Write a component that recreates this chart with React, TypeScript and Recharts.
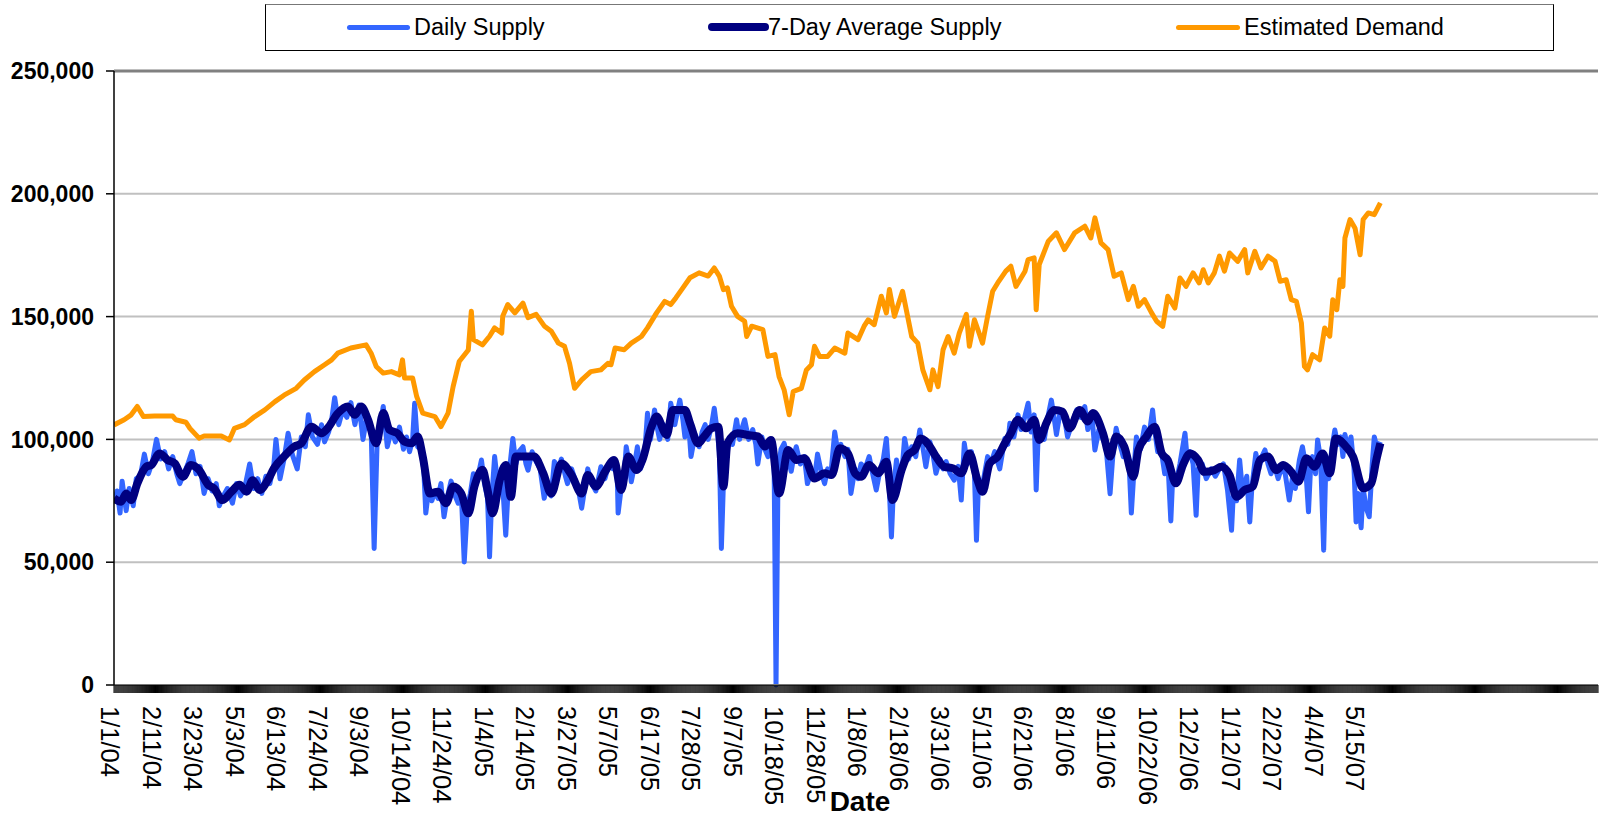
import React from "react";
import { CartesianGrid, Line, LineChart, ReferenceLine, XAxis, YAxis } from "recharts";

// x = days since 1/1/04, y = supply / demand
const dailySupply: [number, number][] = [
  [0, 74000], [3, 79000], [6, 70000], [8, 83000], [12, 71000], [15, 80000], [19, 73000], [22, 84000], [26, 85000], [30, 94000],
  [34, 86000], [38, 91000], [42, 100000], [46, 92000], [50, 95000], [54, 88000], [58, 93000], [62, 86000], [65, 82000], [69, 86000],
  [73, 90000], [77, 95000], [81, 86000], [85, 89000], [89, 78000], [93, 84000], [97, 79000], [101, 82000], [104, 73000], [108, 77000],
  [112, 80000], [117, 74000], [121, 82000], [125, 77000], [129, 80000], [134, 90000], [138, 80000], [142, 84000], [146, 78000], [150, 85000],
  [154, 82000], [158, 90000], [160, 100000], [164, 84000], [168, 92000], [172, 102500], [176, 94000], [181, 88000], [185, 101000], [189, 97000],
  [192, 110000], [196, 101000], [201, 98000], [205, 106000], [208, 99000], [212, 103000], [215, 108000], [218, 117000], [222, 106000], [226, 112000],
  [230, 109000], [234, 115000], [238, 106000], [242, 114000], [246, 100000], [250, 110000], [254, 104000], [257, 55600], [260, 100000], [263, 106000],
  [266, 113400], [270, 97000], [274, 104000], [278, 99000], [282, 105000], [286, 96000], [289, 101000], [292, 95000], [295, 100000], [297, 114700],
  [300, 97000], [303, 96000], [306, 88000], [308, 70000], [311, 80000], [314, 75000], [317, 79000], [320, 76000], [323, 82000], [326, 68500],
  [329, 76000], [333, 83000], [336, 78000], [340, 74000], [343, 79000], [346, 50100], [349, 72000], [352, 78000], [355, 86000], [359, 84000],
  [363, 91600], [366, 82000], [369, 76000], [371, 52200], [373, 75000], [376, 93000], [379, 82000], [383, 88000], [387, 61000], [390, 85000],
  [394, 100400], [397, 90000], [400, 95000], [404, 97000], [407, 90000], [409, 87500], [413, 95000], [417, 91000], [421, 88000], [425, 76000],
  [428, 82000], [432, 77000], [435, 91000], [439, 88000], [442, 92000], [446, 85000], [448, 82000], [452, 88000], [456, 83000], [459, 79000],
  [462, 72000], [465, 80000], [468, 88000], [472, 82000], [476, 79000], [481, 88900], [485, 84000], [489, 90000], [493, 88000], [497, 88000],
  [498, 70000], [501, 80000], [504, 86000], [506, 97000], [509, 90000], [511, 82800], [514, 89000], [517, 97000], [520, 88000], [524, 93000],
  [527, 110600], [530, 100000], [534, 112000], [537, 104000], [539, 100000], [543, 106000], [547, 100000], [550, 114700], [554, 106000], [556, 110000],
  [559, 116000], [562, 108000], [564, 101000], [567, 110000], [570, 93000], [574, 102000], [578, 97000], [581, 103000], [584, 106000], [587, 100000],
  [590, 105000], [593, 112700], [596, 103000], [598, 95000], [600, 55600], [602, 82000], [605, 93000], [608, 100000], [611, 98000], [615, 108000],
  [618, 100000], [620, 104000], [623, 108000], [627, 100000], [631, 104000], [634, 98000], [636, 90000], [640, 101000], [643, 96000], [646, 93000],
  [649, 100000], [652, 95000], [654, 0], [656, 88000], [659, 96000], [662, 98400], [666, 92000], [669, 87000], [672, 94000], [674, 97000],
  [678, 90000], [682, 93000], [685, 82000], [689, 87000], [692, 84000], [695, 94000], [699, 86000], [702, 82000], [705, 88000], [708, 85000],
  [712, 103000], [715, 95000], [718, 98000], [722, 93000], [725, 96000], [728, 78000], [732, 88000], [735, 84000], [738, 90000], [742, 88000],
  [746, 93000], [750, 85000], [753, 79400], [757, 88000], [760, 92000], [763, 100400], [765, 88000], [768, 60300], [770, 80000], [773, 91600],
  [776, 84000], [779, 90000], [781, 100400], [785, 92000], [788, 97000], [792, 93000], [796, 103800], [799, 97000], [802, 88900], [806, 99000],
  [809, 94000], [812, 86200], [816, 92000], [819, 88000], [822, 91000], [826, 86000], [830, 83400], [834, 89000], [837, 75300], [840, 98400],
  [843, 90000], [847, 95000], [850, 86000], [852, 58900], [854, 82000], [857, 79000], [860, 86000], [863, 93000], [866, 90000], [870, 95000],
  [875, 88000], [880, 100400], [883, 98000], [885, 106600], [889, 101000], [893, 110000], [896, 104000], [899, 108000], [903, 114700], [906, 103000],
  [909, 110000], [911, 79400], [913, 102000], [916, 104000], [919, 100000], [922, 108000], [926, 116000], [929, 108000], [931, 102000], [935, 112000],
  [937, 110700], [940, 106000], [942, 101000], [946, 106000], [951, 112000], [955, 109000], [959, 113400], [962, 104000], [966, 110000], [969, 95700],
  [973, 104000], [977, 100000], [980, 97000], [984, 77900], [987, 95000], [990, 104500], [993, 99000], [997, 93000], [1000, 94300], [1003, 88000],
  [1005, 70000], [1008, 90000], [1010, 101000], [1014, 96000], [1018, 105000], [1022, 100000], [1026, 112000], [1028, 104000], [1031, 95000], [1034, 97000],
  [1038, 86000], [1041, 92000], [1044, 66800], [1046, 86000], [1049, 82000], [1053, 90000], [1058, 102500], [1060, 93000], [1063, 95000], [1066, 90000],
  [1069, 69100], [1071, 88000], [1075, 90000], [1079, 84000], [1084, 88000], [1088, 85000], [1092, 88000], [1096, 90000], [1100, 79400], [1104, 63000],
  [1106, 80000], [1109, 75000], [1112, 91600], [1115, 78000], [1119, 85000], [1122, 66400], [1124, 80000], [1128, 94300], [1131, 88000], [1134, 93000],
  [1137, 95700], [1140, 90000], [1143, 86000], [1146, 90000], [1150, 84000], [1153, 88000], [1157, 86000], [1161, 75300], [1164, 84000], [1167, 80000],
  [1171, 91600], [1174, 97000], [1177, 90000], [1180, 70500], [1182, 88000], [1184, 93000], [1187, 86000], [1189, 99800], [1192, 92000], [1195, 54900],
  [1197, 88000], [1200, 84000], [1203, 96000], [1206, 103800], [1209, 98000], [1212, 101000], [1214, 93000], [1216, 102000], [1219, 96000], [1222, 101000],
  [1225, 88000], [1227, 66400], [1229, 78000], [1232, 64000], [1234, 80000], [1237, 72000], [1240, 68500], [1243, 90000], [1245, 101000], [1248, 96000],
  [1251, 99000],
];

const weeklyAverage: [number, number][] = [
  [0, 76000], [7, 74600], [12, 78000], [17, 75300], [23, 82000], [32, 88900], [37, 89600], [45, 94300], [53, 91600], [60, 90200],
  [68, 84800], [76, 89600], [84, 87600], [93, 81500], [99, 80000], [107, 75300], [116, 78700], [124, 81500], [131, 78700], [137, 83400],
  [144, 79400], [152, 83400], [158, 88200], [168, 93000], [178, 97000], [185, 98400], [195, 105200], [205, 102500], [211, 104500], [221, 110600],
  [231, 113400], [238, 110000], [244, 113400], [251, 108000], [259, 98400], [266, 110700], [272, 103900], [280, 102500], [287, 99100], [294, 98400],
  [300, 101200], [305, 93000], [312, 78000], [320, 78700], [328, 74000], [335, 80800], [343, 78000], [350, 69900], [356, 80800], [364, 87600],
  [369, 79400], [374, 69900], [381, 83400], [387, 89600], [392, 76600], [397, 93000], [405, 93000], [415, 93000], [424, 86200], [432, 78000],
  [442, 90200], [452, 85500], [462, 78000], [468, 85500], [476, 80800], [485, 86800], [494, 91600], [501, 79400], [508, 93000], [516, 87500],
  [522, 91600], [531, 105200], [536, 109300], [546, 101800], [552, 112000], [564, 112000], [569, 106600], [577, 98400], [583, 101200], [590, 104500],
  [597, 105200], [602, 80800], [606, 98400], [616, 102500], [626, 101800], [636, 101200], [643, 97100], [649, 99800], [657, 78000], [666, 95700],
  [674, 91600], [682, 92300], [692, 84100], [702, 86200], [709, 85500], [717, 96400], [725, 94300], [732, 86200], [738, 84800], [746, 89600],
  [755, 86200], [763, 90900], [769, 75300], [778, 87500], [784, 93600], [791, 95700], [797, 100400], [806, 97100], [812, 93000], [820, 88900],
  [829, 88200], [837, 86200], [845, 94300], [853, 83400], [858, 78700], [865, 90200], [873, 93000], [880, 98400], [886, 102500], [893, 108000],
  [901, 104500], [909, 108000], [914, 99800], [921, 106600], [929, 112000], [937, 111300], [944, 104500], [954, 112000], [962, 107300], [967, 110700],
  [977, 102500], [984, 93000], [990, 101200], [998, 97100], [1007, 84800], [1012, 95700], [1020, 101200], [1028, 105200], [1035, 94300], [1041, 91600],
  [1049, 82100], [1056, 89600], [1063, 94300], [1071, 91600], [1077, 86800], [1087, 87500], [1094, 88900], [1102, 85500], [1109, 76600], [1117, 79400],
  [1125, 80800], [1132, 91600], [1140, 93000], [1148, 87500], [1155, 89600], [1163, 86800], [1170, 82800], [1178, 92300], [1186, 88900], [1194, 94300],
  [1201, 86200], [1207, 100400], [1217, 97100], [1224, 93000], [1234, 80100], [1242, 82100], [1247, 91600], [1251, 98400],
];

const estimatedDemand: [number, number][] = [
  [0, 105900], [10, 108000], [17, 110000], [23, 113400], [29, 109300], [40, 109500], [58, 109500], [61, 108000], [71, 107000], [75, 104500],
  [84, 100500], [89, 101400], [106, 101400], [114, 99800], [119, 104500], [129, 106000], [139, 109300], [149, 112000], [159, 115400], [168, 118000],
  [180, 120800], [188, 124200], [198, 127600], [208, 130400], [215, 132400], [221, 135100], [234, 137200], [249, 138500], [254, 135100], [259, 129700],
  [266, 127000], [274, 127600], [282, 126300], [285, 132400], [287, 125000], [295, 125000], [299, 117500], [305, 110700], [317, 109300], [323, 105200],
  [330, 110700], [335, 121500], [341, 131700], [350, 136400], [353, 152200], [355, 140600], [364, 138500], [371, 142000], [376, 145400], [383, 143300],
  [384, 150100], [389, 154900], [396, 151500], [404, 155500], [409, 149600], [417, 150900], [425, 146200], [432, 144000], [439, 139200], [445, 137900],
  [450, 131000], [455, 120800], [462, 124200], [471, 127600], [481, 128300], [488, 131000], [491, 130400], [495, 137200], [504, 136500], [511, 139200],
  [521, 141900], [527, 145400], [536, 151500], [544, 156200], [550, 154900], [555, 157600], [562, 161700], [569, 165800], [578, 167800], [587, 166500],
  [593, 169800], [598, 166500], [602, 161000], [606, 161700], [610, 154200], [616, 150100], [623, 148100], [625, 141900], [630, 146100], [641, 144700],
  [646, 133800], [653, 134500], [657, 125600], [662, 120200], [667, 110000], [671, 119500], [679, 120800], [684, 128300], [689, 130400], [692, 137900],
  [697, 133800], [705, 133800], [712, 137200], [722, 135100], [725, 143300], [735, 140600], [741, 146100], [745, 148700], [751, 146700], [758, 158300],
  [763, 151500], [766, 161000], [771, 150100], [779, 160300], [788, 141900], [794, 139200], [799, 128300], [806, 120200], [809, 128300], [814, 121500],
  [819, 136500], [824, 141900], [830, 135100], [835, 143300], [842, 150900], [845, 137900], [850, 148700], [858, 139200], [863, 150100], [868, 160300],
  [873, 163700], [881, 168500], [886, 170500], [891, 162300], [900, 168500], [903, 173200], [909, 173900], [911, 152800], [914, 171200], [923, 180700],
  [931, 184100], [939, 177300], [949, 184100], [959, 186800], [965, 182000], [969, 190200], [975, 180000], [982, 177300], [988, 166400], [995, 167800],
  [1002, 156900], [1007, 162300], [1012, 154200], [1018, 156900], [1025, 151500], [1030, 148100], [1036, 146000], [1041, 158300], [1048, 153500], [1053, 165700],
  [1059, 162300], [1066, 167800], [1072, 163700], [1076, 169100], [1081, 163700], [1087, 167800], [1092, 174600], [1097, 168500], [1102, 175900], [1110, 172500],
  [1117, 177300], [1120, 167800], [1127, 176600], [1133, 169800], [1140, 174600], [1147, 172500], [1152, 164400], [1158, 165000], [1163, 156900], [1168, 156200],
  [1173, 147400], [1176, 129700], [1179, 128300], [1184, 134500], [1191, 132400], [1196, 145400], [1201, 142000], [1204, 156900], [1208, 152800], [1211, 165000],
  [1214, 162300], [1216, 182000], [1221, 189500], [1226, 186000], [1231, 175200], [1234, 189500], [1239, 192200], [1245, 191500], [1251, 196300],
];

// one label every 41 days, starting 1/1/04
const dateLabels = [
  "1/1/04", "2/11/04", "3/23/04", "5/3/04", "6/13/04", "7/24/04", "9/3/04", "10/14/04", "11/24/04", "1/4/05",
  "2/14/05", "3/27/05", "5/7/05", "6/17/05", "7/28/05", "9/7/05", "10/18/05", "11/28/05", "1/8/06", "2/18/06",
  "3/31/06", "5/11/06", "6/21/06", "8/1/06", "9/11/06", "10/22/06", "12/2/06", "1/12/07", "2/22/07", "4/4/07",
  "5/15/07",
];
const LABEL_STEP = 41;
const LAST_DAY = 1466;
const yTicks = [0, 50000, 100000, 150000, 200000, 250000];

const dayTicks = Array.from({ length: LAST_DAY + 1 }, (_, i) => i);
const FONT = "'Liberation Sans', Arial, sans-serif";

const toRows = (pts: [number, number][]) => pts.map(([day, value]) => ({ day, value }));

function DateTick(props: any) {
  const { x, y, payload } = props;
  const v = payload.value;
  const label = v % LABEL_STEP === 0 ? dateLabels[v / LABEL_STEP] : undefined;
  if (!label) return <g />;
  return (
    <text
      transform={`translate(${x - 13},${y + 11}) rotate(90)`}
      textAnchor="start"
      fontSize={25.5}
      fontFamily={FONT}
      fill="#000"
    >
      {label}
    </text>
  );
}

const legendItems = [
  { name: "Daily Supply", color: "#3366FF", lineLeft: 82, lineWidth: 63, thick: 5, textLeft: 149 },
  { name: "7-Day Average Supply", color: "#000080", lineLeft: 443, lineWidth: 61, thick: 8, textLeft: 503 },
  { name: "Estimated Demand", color: "#FF9900", lineLeft: 911, lineWidth: 64, thick: 5, textLeft: 979 },
];

export default function App() {
  return (
    <div style={{ position: "absolute", left: 0, top: 0, width: 1600, height: 817, background: "#fff", fontFamily: FONT }}>
      <LineChart width={1600} height={817} margin={{ top: 71, right: 2, bottom: 0, left: 14 }}>
        <CartesianGrid vertical={false} stroke="#c0c0c0" strokeWidth={2} />
        <XAxis
          dataKey="day"
          type="number"
          domain={[0, LAST_DAY]}
          ticks={dayTicks}
          interval={0}
          height={132}
          tickSize={8}
          tick={<DateTick />}
          tickLine={{ stroke: "#000", strokeWidth: 1 }}
          axisLine={{ stroke: "#777", strokeWidth: 2 }}
          allowDataOverflow
        />
        <YAxis
          width={100}
          domain={[0, 250000]}
          ticks={yTicks}
          interval={0}
          tickSize={8}
          tickMargin={12}
          tickFormatter={(v: number) => v.toLocaleString("en-US")}
          tick={{ fill: "#000", fontSize: 23, fontWeight: 700, fontFamily: FONT }}
          tickLine={{ stroke: "#000", strokeWidth: 1.5 }}
          axisLine={{ stroke: "#000", strokeWidth: 1.5 }}
        />
        <ReferenceLine y={250000} stroke="#808080" strokeWidth={3} />
        <Line
          data={toRows(dailySupply)}
          dataKey="value"
          type="linear"
          stroke="#3366FF"
          strokeWidth={5}
          strokeLinejoin="round"
          dot={false}
          isAnimationActive={false}
        />
        <Line
          data={toRows(weeklyAverage)}
          dataKey="value"
          type="monotone"
          stroke="#000080"
          strokeWidth={8}
          strokeLinejoin="round"
          dot={false}
          isAnimationActive={false}
        />
        <Line
          data={toRows(estimatedDemand)}
          dataKey="value"
          type="linear"
          stroke="#FF9900"
          strokeWidth={5}
          strokeLinejoin="round"
          dot={false}
          isAnimationActive={false}
        />
      </LineChart>

      <div
        style={{
          position: "absolute",
          left: 265,
          top: 4,
          width: 1289,
          height: 47,
          border: "1px solid #000",
          borderTopColor: "#777",
          boxSizing: "border-box",
          background: "#fff",
        }}
      >
        {legendItems.map((it) => (
          <React.Fragment key={it.name}>
            <div
              style={{
                position: "absolute",
                left: it.lineLeft - 1,
                top: 22 - it.thick / 2,
                width: it.lineWidth,
                height: it.thick,
                borderRadius: it.thick / 2,
                background: it.color,
              }}
            />
            <div
              style={{
                position: "absolute",
                left: it.textLeft - 1,
                top: 0,
                lineHeight: "45px",
                fontSize: 23.5,
                color: "#000",
                whiteSpace: "nowrap",
              }}
            >
              {it.name}
            </div>
          </React.Fragment>
        ))}
      </div>

      <div
        style={{
          position: "absolute",
          left: 860,
          top: 788,
          transform: "translateX(-50%)",
          fontSize: 28,
          fontWeight: 700,
          lineHeight: "28px",
          color: "#000",
        }}
      >
        Date
      </div>
    </div>
  );
}
